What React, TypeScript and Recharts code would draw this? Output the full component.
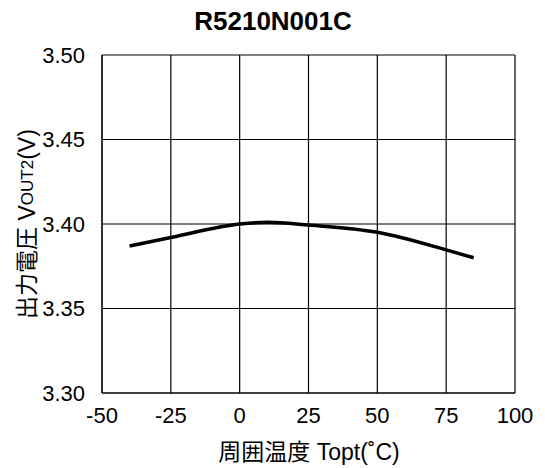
import { LineChart, Line, XAxis, YAxis, CartesianGrid } from "recharts";

const temps = [-40, -25, 0, 10, 25, 50, 75, 85];
const vout = [3.387, 3.392, 3.4, 3.401, 3.3994, 3.3951, 3.3847, 3.38];
const xTicks = [-50, -25, 0, 25, 50, 75, 100];
const yTicks = [3.3, 3.35, 3.4, 3.45, 3.5];

const data = temps.map((t, i) => ({ t, v: vout[i] }));

const FONT = "'Liberation Sans', Arial, 'Noto Sans CJK JP', sans-serif";

const YLabel = () => (
  <text
    x={27}
    y={224}
    transform="rotate(-90 27 224)"
    textAnchor="middle"
    dominantBaseline="central"
    fontFamily={FONT}
    fontSize={23}
    fill="#000"
  >
    出力電圧 V<tspan fontSize={17}>OUT2</tspan>(V)
  </text>
);

const XLabel = () => (
  <text
    x={309}
    y={452}
    textAnchor="middle"
    dominantBaseline="central"
    fontFamily={FONT}
    fontSize={23}
    fill="#000"
  >
    周囲温度 Topt(˚C)
  </text>
);

export default function App() {
  return (
    <div style={{ position: "absolute", left: 0, top: 0, width: 545, height: 468, background: "#fff" }}>
      <div
        style={{
          position: "absolute",
          left: 0,
          width: 546,
          top: 6,
          textAlign: "center",
          fontFamily: FONT,
          fontWeight: "bold",
          fontSize: 26,
          lineHeight: "30px",
        }}
      >
        R5210N001C
      </div>
      <LineChart
        width={545}
        height={468}
        data={data}
        margin={{ top: 55, right: 30, bottom: 0, left: 0 }}
      >
        <CartesianGrid stroke="#000" strokeWidth={1.2} />
        <XAxis
          dataKey="t"
          type="number"
          domain={[-50, 100]}
          ticks={xTicks}
          height={75}
          tickSize={0}
          tickMargin={14}
          stroke="#000"
          tick={{ fill: "#000", fontSize: 22, fontFamily: FONT }}
          label={{ content: XLabel }}
        />
        <YAxis
          type="number"
          domain={[3.3, 3.5]}
          ticks={yTicks}
          width={102}
          tickSize={0}
          tickMargin={17}
          stroke="#000"
          tickFormatter={(v: number) => v.toFixed(2)}
          tick={{ fill: "#000", fontSize: 22, fontFamily: FONT }}
          label={{ content: YLabel }}
        />
        <Line
          dataKey="v"
          type="monotone"
          stroke="#000"
          strokeWidth={3.5}
          dot={false}
          isAnimationActive={false}
        />
      </LineChart>
    </div>
  );
}
